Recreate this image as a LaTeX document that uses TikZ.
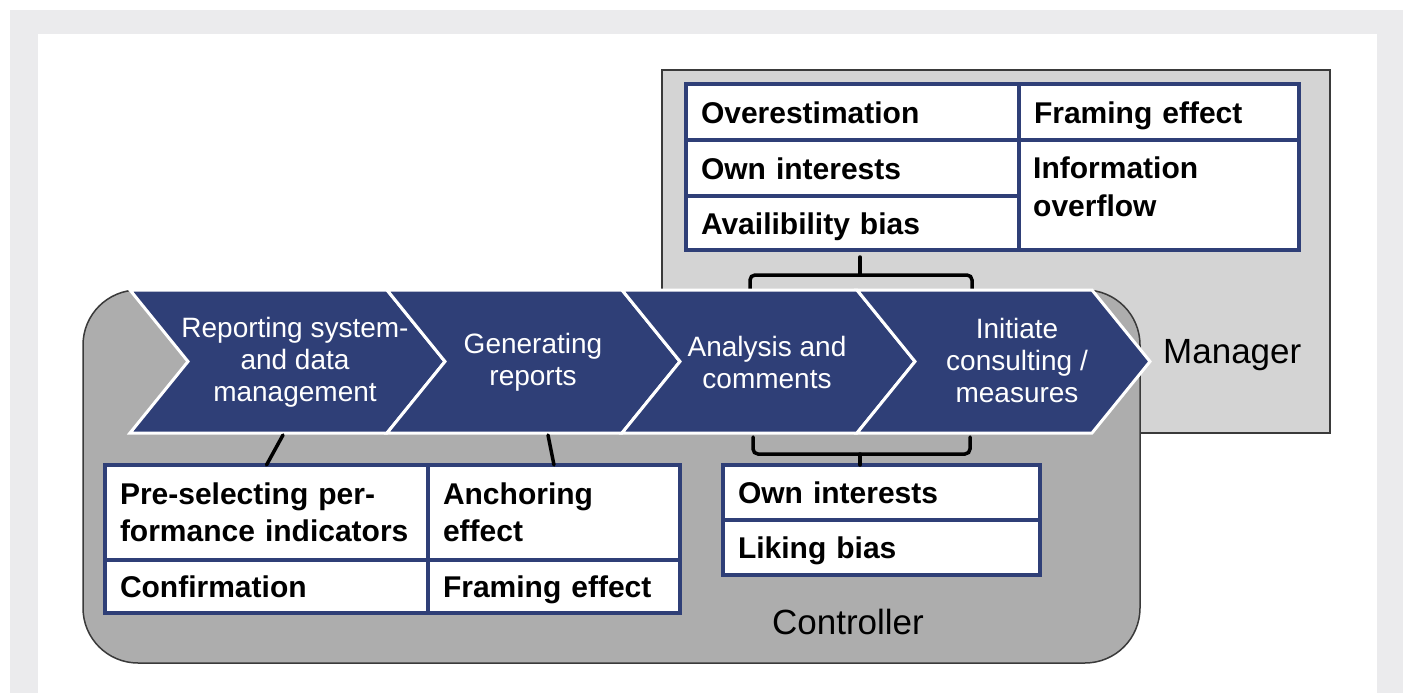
\documentclass[tikz,border=0pt]{standalone}
\usepackage{fontspec}
\setmainfont{Liberation Sans}
\definecolor{framegray}{HTML}{EBEBED}
\definecolor{navy}{HTML}{2F3F77}
\definecolor{mgrgray}{HTML}{D4D4D4}
\definecolor{ctrlgray}{HTML}{ADADAD}
\definecolor{edgegray}{HTML}{3A3A3A}
\begin{document}
\begin{tikzpicture}[x=1pt,y=-1pt,
  chevron/.style={fill=navy,draw=white,line width=3pt,line join=miter},
  chevtext/.style={text=white,align=center,inner sep=0pt,
    font=\fontsize{28}{32}\selectfont},
  cell/.style={draw=navy,fill=white,line width=4pt,anchor=north west,
    inner xsep=15pt,inner ysep=0pt,outer sep=0pt,align=left,
    font=\bfseries\fontsize{30}{37}\selectfont},
  oneline/.style={text height=22pt,text depth=0pt},
  cellbody/.style={inner sep=0pt,anchor=north west,align=left,
    font=\bfseries\fontsize{30}{38}\selectfont},
  bracket/.style={draw=black,line width=3.5pt,rounded corners=5pt,line cap=round},
  conn/.style={draw=black,line width=3.5pt,line cap=round},
  role/.style={inner sep=0pt,font=\fontsize{35}{40}\selectfont}]

% page and frame
\useasboundingbox (0,0) rectangle (1403,693);
\fill[white] (0,0) rectangle (1403,693);
\fill[framegray] (10,10) rectangle (1403,693);
\fill[white] (38,34) rectangle (1377,693);

% manager area
\node[draw=edgegray,fill=mgrgray,line width=1.5pt,anchor=north west,
  minimum width=668pt,minimum height=363pt,inner sep=0pt,outer sep=0pt]
  (mgr) at (662,70) {};
\node[role,anchor=west] (mgrlabel) at (1163,355) {Manager};

% manager table
\node[cell,oneline,text width=303pt,minimum height=56pt] (over)   at (686,84)  {Overestimation};
\node[cell,oneline,text width=303pt,minimum height=56pt] (own1)   at (686,140) {Own interests};
\node[cell,oneline,text width=303pt,minimum height=54pt] (avail)  at (686,196) {Availibility bias};
\node[cell,oneline,text width=250pt,minimum height=56pt] (frame1) at (1019,84) {Framing effect};
\node[cell,text width=250pt,minimum height=110pt] (info)  at (1019,140) {};
\node[cellbody] (infotext) at (1033,157) {Information\\overflow};

% bracket from the manager table to the process
\coordinate (tbl) at (750,290);
\coordinate (tbm) at (860,275);
\coordinate (tbr) at (972,290);
\coordinate (tbs) at (860,257);
\draw[bracket] (tbl) |- (tbm) -| (tbr);
\draw[conn] (tbm) -- (tbs);

% controller area
\node[draw=edgegray,fill=ctrlgray,line width=1.5pt,rounded corners=55pt,
  anchor=north west,minimum width=1057pt,minimum height=373pt,
  inner sep=0pt,outer sep=0pt] (ctrl) at (83,290) {};
\node[role] (ctrllabel) at (848,622) {Controller};

% process chevrons
\path[chevron] (130,290) -- (387,290) -- (445,361.5) -- (387,433) -- (130,433) -- (188,361.5) -- cycle;
\path[chevron] (387,290) -- (622,290) -- (680,361.5) -- (622,433) -- (387,433) -- (445,361.5) -- cycle;
\path[chevron] (622,290) -- (857,290) -- (915,361.5) -- (857,433) -- (622,433) -- (680,361.5) -- cycle;
\path[chevron] (857,290) -- (1092,290) -- (1150,361.5) -- (1092,433) -- (857,433) -- (915,361.5) -- cycle;

\node[chevtext] (c1) at (295,362) {Reporting system-\\and data\\management};
\node[chevtext] (c2) at (533,362) {Generating\\reports};
\node[chevtext] (c3) at (767,362) {Analysis and\\comments};
\node[chevtext] (c4) at (1017,360) {Initiate\\consulting /\\measures};

% controller tables
\node[cell,text width=293pt,minimum height=95pt] (pre)   at (105,465) {Pre-selecting per-\\formance indicators};
\node[cell,oneline,text width=293pt,minimum height=53pt] (conf)  at (105,560) {Confirmation};
\node[cell,text width=222pt,minimum height=95pt] (anch)  at (428,465) {Anchoring\\effect};
\node[cell,oneline,text width=222pt,minimum height=53pt] (frame2) at (428,560) {Framing effect};

\node[cell,oneline,text width=287pt,minimum height=55pt] (own2)  at (723,465) {Own interests};
\node[cell,oneline,text width=287pt,minimum height=55pt] (like)  at (723,520) {Liking bias};

% connectors from the process steps
\coordinate (k1) at (283,435);
\coordinate (k2) at (548,435);
\draw[conn] (k1) -- (pre.north);
\draw[conn] (k2) -- (anch.north);

\coordinate (bbl) at (753,437);
\coordinate (bbm) at (860,454);
\coordinate (bbr) at (970,437);
\draw[bracket] (bbl) |- (bbm) -| (bbr);
\draw[conn] (bbm) -- (bbm |- own2.north);
\end{tikzpicture}
\end{document}
